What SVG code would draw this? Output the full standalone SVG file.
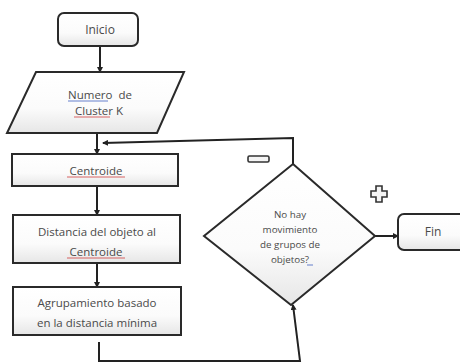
<svg xmlns="http://www.w3.org/2000/svg" width="460" height="363" viewBox="0 0 460 363">
<defs>
<linearGradient id="g" x1="0" y1="0" x2="0" y2="1">
<stop offset="0" stop-color="#ffffff"/>
<stop offset="0.6" stop-color="#fbfbfb"/>
<stop offset="1" stop-color="#e6e6e6"/>
</linearGradient>
<marker id="arr" markerWidth="6" markerHeight="6" refX="5" refY="3" orient="auto" markerUnits="userSpaceOnUse">
<path d="M0,0 L6,3 L0,6 Z" fill="#222"/>
</marker>
</defs>
<style>
.box{fill:url(#g);stroke:#2a2a2a;stroke-width:2}
.t{font-family:"Open Sans","Liberation Sans",sans-serif;font-size:11.5px;fill:#4a4a4a;text-anchor:middle}
.s{font-size:9.8px}
.c{fill:none;stroke:#222;stroke-width:2}
.ur{stroke:#d04040;stroke-width:0.8;fill:none}
.ub{stroke:#4060c0;stroke-width:0.8;fill:none}
.sym{fill:#f4f4f4;stroke:#333;stroke-width:1.6}
</style>
<rect width="460" height="363" fill="#ffffff"/>
<g id="connectors">
<line class="c" x1="100" y1="46" x2="100" y2="72" marker-end="url(#arr)"/>
<line class="c" x1="97" y1="133" x2="97" y2="154" marker-end="url(#arr)"/>
<line class="c" x1="97" y1="186" x2="97" y2="215" marker-end="url(#arr)"/>
<line class="c" x1="97" y1="263" x2="97" y2="287" marker-end="url(#arr)"/>
<polyline class="c" points="99,342 99,361 300,361 293,305" marker-end="url(#arr)"/>
<polyline class="c" points="293,165 293,138 103,143" marker-end="url(#arr)"/>
<line class="c" x1="375" y1="236" x2="398" y2="236" marker-end="url(#arr)"/>
</g>
<g id="inicio">
<rect class="box" x="58" y="13" width="80" height="33" rx="6"/>
<text class="t" x="100" y="34" style="font-size:12px">Inicio</text>
</g>
<g id="numero-cluster">
<polygon class="box" points="36,72 184,72 157,133 7,133"/>
<text class="t" x="100" y="99" xml:space="preserve">Numero  de</text>
<text class="t" x="99" y="115">Cluster K</text>
<line class="ub" x1="68" y1="101" x2="108" y2="101"/>
<line class="ur" x1="74" y1="117" x2="110" y2="117"/>
</g>
<g id="centroide">
<rect class="box" x="12" y="154" width="166" height="32"/>
<text class="t" x="96" y="175">Centroide</text>
<line class="ur" x1="67" y1="177" x2="125" y2="177"/>
</g>
<g id="distancia">
<rect class="box" x="13" y="215" width="167" height="48"/>
<text class="t" x="97" y="236">Distancia del objeto al</text>
<text class="t" x="96" y="256">Centroide</text>
<line class="ur" x1="67" y1="258" x2="125" y2="258"/>
</g>
<g id="agrupamiento">
<rect class="box" x="13" y="287" width="168" height="48"/>
<text class="t" x="97" y="307">Agrupamiento basado</text>
<text class="t" x="97" y="327">en la distancia mínima</text>
</g>
<g id="decision">
<polygon class="box" points="293,164 375,236 291,305 204,236"/>
<text class="t s" x="290" y="218">No hay</text>
<text class="t s" x="290" y="233">movimiento</text>
<text class="t s" x="290" y="248">de grupos de</text>
<text class="t s" x="290" y="263">objetos?</text>
<line class="ub" x1="307" y1="265" x2="313" y2="265"/>
</g>
<g id="minus">
<rect class="sym" x="248" y="156" width="21" height="6" rx="1.5"/>
</g>
<g id="plus">
<path class="sym" d="M376,186 h6 v5 h5 v6 h-5 v5 h-6 v-5 h-5 v-6 h5 Z"/>
</g>
<g id="fin">
<rect class="box" x="398" y="214" width="75" height="36" rx="6"/>
<text class="t" x="433" y="236" style="font-size:12px">Fin</text>
</g>
</svg>
